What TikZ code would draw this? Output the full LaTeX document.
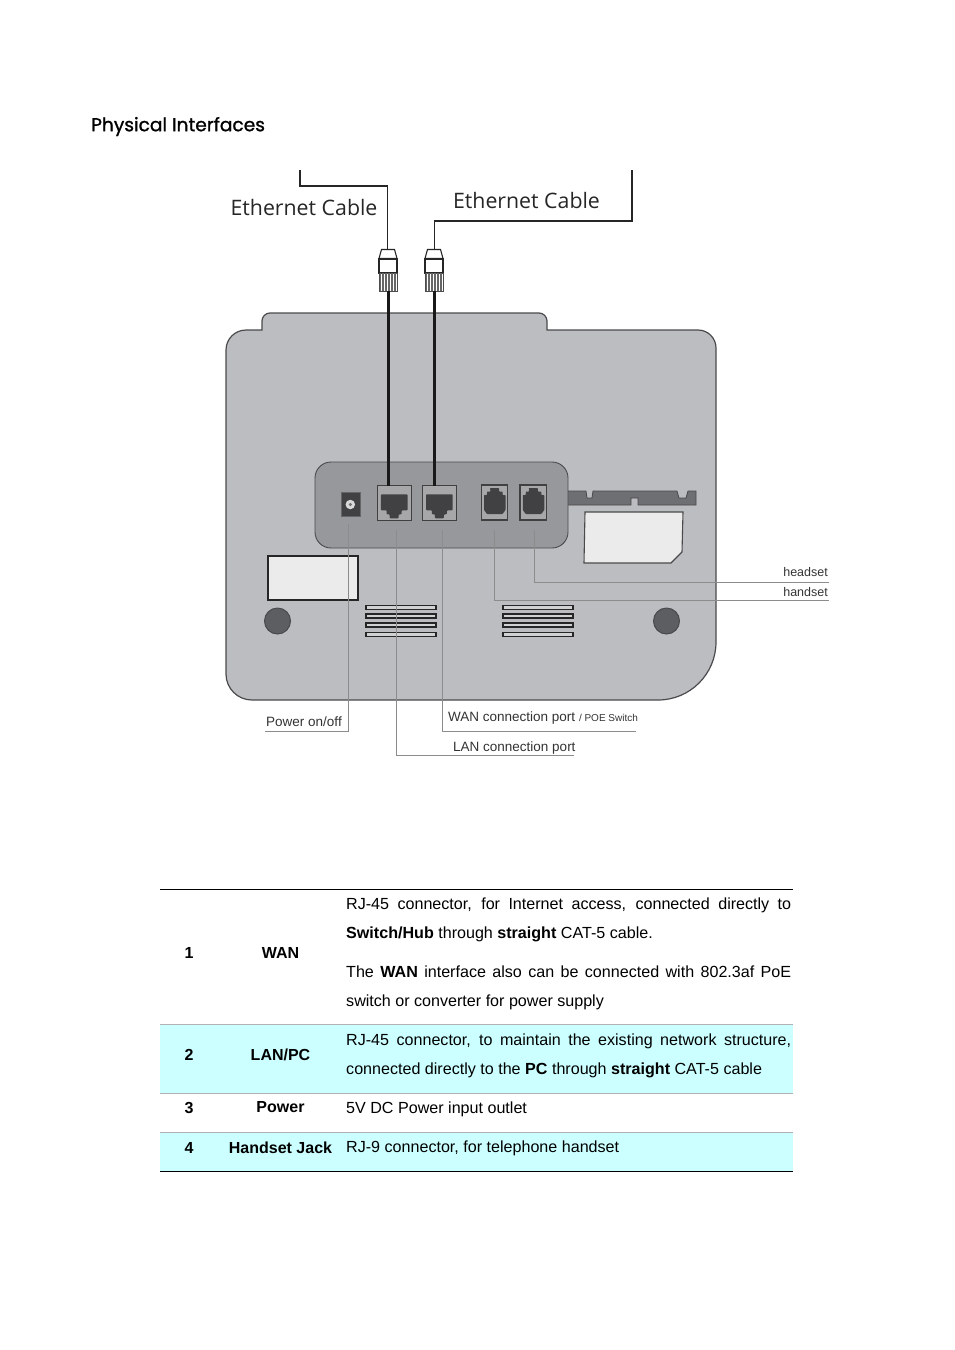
\documentclass[tikz,border=0pt]{standalone}
\usepackage{fontspec}
\setmainfont{Liberation Sans}
\newfontfamily\headfont[FakeBold=1.2]{Poppins}
\newfontfamily\cablefont{Open Sans}
\usetikzlibrary{arrows.meta,positioning,calc,fit}

\definecolor{bodygray}{HTML}{BCBDC0}
\definecolor{panelgray}{HTML}{97989B}
\definecolor{slotgray}{HTML}{6E6F72}
\definecolor{edgegray}{HTML}{4A4A4C}
\definecolor{jackgray}{HTML}{414143}
\definecolor{leadgray}{HTML}{8C8C8C}
\definecolor{rowcyan}{HTML}{CCFFFF}

\begin{document}
\begin{tikzpicture}[
    x=1pt, y=-1pt,
    port/.style={
        draw=black!75,
        line width=1.2pt,
        fill=panelgray!85!white,
        inner sep=0pt
    },
    cable/.style={line width=1.3pt, draw=black!85},
    thickcable/.style={line width=2.4pt, draw=black!90},
    leader/.style={line width=0.7pt, draw=leadgray},
    plugpart/.style={draw=black!85, line width=1.1pt, fill=white, inner sep=0pt},
    callout/.style={font=\fontsize{13.5}{16}\selectfont, text=black!80, inner sep=0pt},
    cell/.style={font=\fontsize{16}{18}\selectfont\bfseries, inner sep=0pt},
    rowtext/.style={
        font=\fontsize{16.1}{29}\selectfont,
        text width=445pt,
        align=justify,
        inner sep=0pt,
        anchor=north west
    }
]
\useasboundingbox (0,0) rectangle (954,1350);

% heading
\node[font=\headfont\fontsize{18.6}{22}\selectfont, anchor=west, inner sep=0pt] (title) at (91,126.5) {Physical Interfaces};

% phone body
\draw[fill=bodygray, draw=edgegray, line width=1.2pt]
    (262,330) [rounded corners=8pt] -- (262,313) -- (547,313) [sharp corners] -- (547,330)
    [rounded corners=18pt] -- (716,330) [rounded corners=58pt] -- (716,700)
    [rounded corners=26pt] -- (226,700) [rounded corners=20pt] -- (226,330) [sharp corners] -- cycle;

% handset slot and card
\draw[fill=slotgray, draw=edgegray, line width=0.8pt]
    (567,491) -- (586,491) -- (587,498) -- (592,498) -- (593,491) -- (677,491) -- (679,498)
    -- (686,498) -- (688,491) -- (696,491) -- (696,505) -- (638,505) -- (638,498) -- (631,498)
    -- (631,505) -- (567,505) -- cycle;
\draw[fill=black!8, draw=edgegray, line width=1.1pt]
    (585,512) -- (683,512) -- (682,552) -- (671,563) -- (584,563) -- cycle;

% port panel
\node[draw=edgegray, fill=panelgray, rounded corners=16pt, line width=0.9pt, minimum width=253pt, minimum height=86pt, inner sep=0pt] (panel) at (441.5,505) {};

% label window
\node[draw=black!85, fill=black!8, line width=1.6pt, minimum width=90pt, minimum height=44pt, inner sep=0pt] (window) at (313,578) {};

% feet
\foreach \cx/\name in {277.5/footl, 666.5/footr}
    \node[circle, draw=edgegray, fill=slotgray!85!black, line width=1pt, minimum size=26pt, inner sep=0pt] (\name) at (\cx,621) {};

% vents
\foreach \vx in {401,538}
    \foreach \vy in {607.3,616,625,634.5}
        \node[draw=black!85, fill=bodygray!70!white, line width=1.1pt, minimum width=70pt, minimum height=4pt, inner sep=0pt] at (\vx,\vy) {};

% ports
\node[draw=black!60, fill=jackgray, line width=0.6pt, minimum width=19pt, minimum height=24pt, inner sep=0pt] (powerport) at (350.3,504) {};
\node[circle, fill=black!15, minimum size=9.5pt, inner sep=0pt] (powerring) at (350.3,504.5) {};
\node[circle, fill=black!55, minimum size=3.5pt, inner sep=0pt] (powerpin) at (350.3,504.5) {};

\node[port, minimum width=34pt, minimum height=35pt] (lanport) at (394.2,503.3) {};
\node[port, minimum width=34pt, minimum height=35pt] (wanport) at (439.4,503.3) {};
\foreach \p in {lanport, wanport}
    \fill[jackgray, rounded corners=0.8pt] ([shift={(-13.3,-9)}]\p.center) -- ++(26.6,0) -- ++(0,16) -- ++(-5.8,0) -- ++(0,4)
        -- ++(-3,0) -- ++(0,4) -- ++(-9,0) -- ++(0,-4) -- ++(-3,0) -- ++(0,-4) -- ++(-5.8,0) -- cycle;

\node[port, minimum width=26.5pt, minimum height=35pt] (handport) at (494.5,502.5) {};
\node[port, minimum width=26.5pt, minimum height=35pt] (headport) at (533.3,502.5) {};
\foreach \p in {handport, headport}
    \fill[jackgray, rounded corners=0.6pt] ([shift={(-4.5,-14.5)}]\p.center) -- ++(9,0) -- ++(0,3.5) -- ++(3.5,0) -- ++(0,3.5) -- ++(3,0)
        -- ++(0,15) -- ++(-3,4) -- ++(-15.5,0) -- ++(-3,-4) -- ++(0,-15) -- ++(3,0) -- ++(0,-3.5) -- ++(3.5,0) -- cycle;

% plugs
\foreach \px/\name in {388/lan, 434/wan} {
    \node[plugpart, minimum width=18pt, minimum height=14pt] (\name plug) at (\px,266) {};
    \draw[plugpart] ([shift={(-9,0)}]\name plug.north) -- ++(2.5,-9) -- ++(13,0) -- ++(2.5,9) -- cycle;
    \node[draw=black!70, line width=0.6pt, fill=white, minimum width=18pt, minimum height=18pt, inner sep=0pt] (\name pins) at (\px,282) {};
    \foreach \dx in {-7.5,-6,...,7.5}
        \draw[black!60, line width=0.5pt] ([xshift=\dx]\name pins.north) -- ([xshift=\dx]\name pins.south);
}

% ethernet cables
\coordinate (lanfree) at (300,170);
\coordinate (lanbend) at (387.5,186);
\coordinate (lantop) at (387.5,250);
\coordinate (wanfree) at (632,170);
\coordinate (wanbend) at (434.5,221);
\coordinate (wantop) at (434.5,250);
\draw[cable] (lanfree) |- (lanbend) -- (lantop);
\draw[cable] (wanfree) |- (wanbend) -- (wantop);
\coordinate (lanjack) at (388.5,486);
\coordinate (wanjack) at (434.5,486);
\draw[thickcable] (lanpins.south -| lanjack) -- (lanjack);
\draw[thickcable] (wanpins.south -| wanjack) -- (wanjack);
\node[font=\cablefont\fontsize{21.3}{24}\selectfont, text=black!85, inner sep=0pt] (lancable) at (304,208) {Ethernet Cable};
\node[font=\cablefont\fontsize{21.3}{24}\selectfont, text=black!85, inner sep=0pt] (wancable) at (526.5,201) {Ethernet Cable};

% leaders
\coordinate (powertap) at (348,524);
\coordinate (lantap) at (396,530);
\coordinate (wantap) at (442,530);
\coordinate (handtap) at (494,530);
\coordinate (headtap) at (534,530);
\coordinate (powerend) at (265,731);
\coordinate (lanend) at (574,755);
\coordinate (wanend) at (636,731);
\coordinate (handend) at (829,600);
\coordinate (headend) at (829,582);
\draw[leader] (powertap) |- (powerend);
\draw[leader] (lantap) |- (lanend);
\draw[leader] (wantap) |- (wanend);
\draw[leader] (handtap) |- (handend);
\draw[leader] (headtap) |- (headend);

\node[callout, anchor=east, font=\fontsize{12.5}{14}\selectfont] (headlabel) at (828,572) {headset};
\node[callout, anchor=east, font=\fontsize{12.5}{14}\selectfont] (handlabel) at (828,592) {handset};
\node[callout] (powerlabel) at (304,722) {Power on/off};
\node[callout, anchor=west] (wanlabel) at (448,718) {WAN connection port {\fontsize{10}{12}\selectfont / POE Switch}};
\node[callout, anchor=west] (lanlabel) at (453,748) {LAN connection port};

% table
\fill[rowcyan] (160,1025) rectangle (793,1093);
\fill[rowcyan] (160,1133) rectangle (793,1171);
\draw[black, line width=0.8pt] (160,889) -- (793,889);
\draw[black, line width=0.8pt] (160,1171.5) -- (793,1171.5);
\foreach \ry in {1024.5,1093,1132.5}
    \draw[black!30, line width=0.8pt] (160,\ry) -- (793,\ry);

\node[cell] (numa) at (189,952.5) {1};
\node[cell] (numb) at (189,1054.5) {2};
\node[cell] (numc) at (189,1107.5) {3};
\node[cell] (numd) at (189,1147.5) {4};
\node[cell] (waname) at (280.5,952.5) {WAN};
\node[cell] (lanname) at (280.5,1054.5) {LAN/PC};
\node[cell] (powername) at (280.5,1107.5) {Power};
\node[cell] (handname) at (280.5,1147.5) {Handset Jack};

\node[rowtext] (wantext) at (346,898) {RJ-45 connector, for Internet access, connected directly to \textbf{Switch/Hub} through \textbf{straight} CAT-5 cable.};
\node[rowtext] (poetext) at (346,966) {The \textbf{WAN} interface also can be connected with 802.3af PoE switch or converter for power supply};
\node[rowtext] (lantext) at (346,1034) {RJ-45 connector, to maintain the existing network structure, connected directly to the \textbf{PC} through \textbf{straight} CAT-5 cable};
\node[rowtext] (powertext) at (346,1102) {5V DC Power input outlet};
\node[rowtext] (handtext) at (346,1141) {RJ-9 connector, for telephone handset};

\end{tikzpicture}
\end{document}
